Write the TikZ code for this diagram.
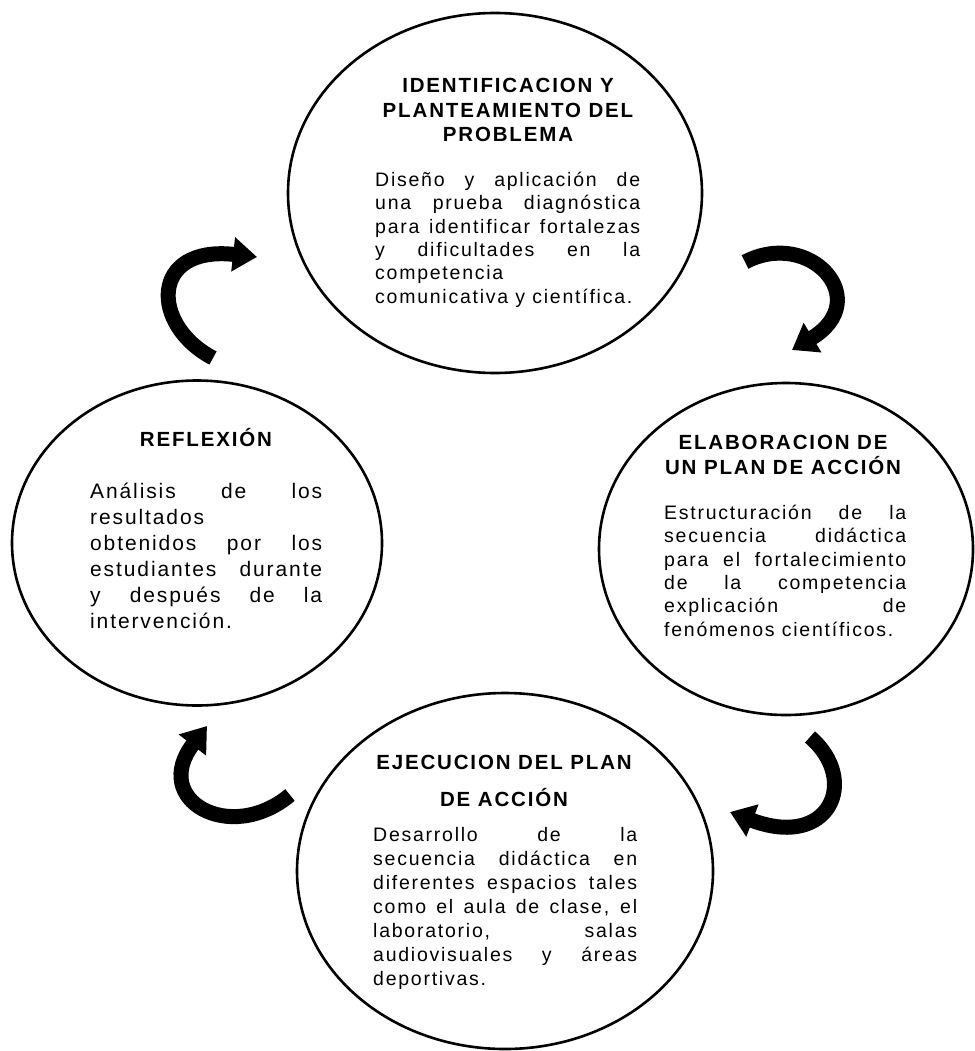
\documentclass[tikz,border=0pt]{standalone}
\usepackage{fontspec}
\setmainfont{Liberation Sans}[LetterSpace=9]
\usetikzlibrary{shapes.geometric,arrows.meta}
\newcommand\nohyph{\hyphenpenalty=10000\relax\exhyphenpenalty=10000\relax\tolerance=10000\relax}
\tikzset{
  stage/.style={draw=black, line width=2.6pt, ellipse, inner sep=0pt},
  ttl/.style={inner sep=0pt, align=center, font=\bfseries\fontsize{20.5}{24.5}\selectfont},
  body/.style={inner sep=0pt, anchor=north west, align=justify,
     font=\fontsize{19.5}{23.3}\selectfont},
  cyc/.style={line width=15pt, -{Triangle[length=24pt,width=33pt]}}
}
\begin{document}
\begin{tikzpicture}[x=1pt,y=-1pt]
\useasboundingbox (0,0) rectangle (974,1051);
% ellipses
\node[stage, minimum width=414pt, minimum height=360pt] (T) at (495,193) {};
\node[stage, minimum width=374pt, minimum height=332pt] (R) at (786,549) {};
\node[stage, minimum width=370pt, minimum height=325pt] (L) at (197,543) {};
\node[stage, minimum width=416pt, minimum height=356pt] (B) at (505,871) {};
% top
\node[ttl, anchor=north] (Tt) at (508,78) {IDENTIFICACION Y\\PLANTEAMIENTO DEL\\PROBLEMA};
\node[body, text width=265pt] (Tb) at (375,172) {\nohyph Diseño y aplicación de\linebreak una prueba diagnóstica\linebreak para identificar fortalezas\linebreak y dificultades en la\linebreak competencia\\ comunicativa y científica.};
% right
\node[ttl, anchor=north] (Rt) at (783,435) {ELABORACION DE\\UN PLAN DE ACCIÓN};
\node[body, text width=242pt] (Rb) at (664,505) {\nohyph Estructuración de la\linebreak secuencia didáctica\linebreak para el fortalecimiento\linebreak de la competencia\linebreak explicación de\linebreak fenómenos científicos.};
% left
\node[ttl, anchor=north] (Lt) at (206,428) {REFLEXIÓN};
\node[body, text width=232pt, font=\fontsize{21}{26}\selectfont] (Lb) at (90,483) {\nohyph Análisis de los\linebreak resultados\\ obtenidos por los\linebreak estudiantes durante\linebreak y después de la\linebreak intervención.};
% bottom
\node[ttl, anchor=north] (Bt) at (504,755) {EJECUCION DEL PLAN\\[12pt]DE ACCIÓN};
\node[body, text width=264pt, font=\fontsize{19.5}{24}\selectfont] (Bb) at (373,827) {\nohyph Desarrollo de la\linebreak secuencia didáctica en\linebreak diferentes espacios tales\linebreak como el aula de clase, el\linebreak laboratorio, salas\linebreak audiovisuales y áreas\linebreak deportivas.};
% arrows
\coordinate (a1s) at (213,358); \coordinate (a1e) at (257,257);
\coordinate (a2s) at (745,262); \coordinate (a2e) at (792,350);
\coordinate (a3s) at (810,737); \coordinate (a3e) at (730,812);
\coordinate (a4s) at (290,795); \coordinate (a4e) at (207,726);
\draw[cyc] (a1s) .. controls (150,325) and (150,245) .. (a1e);
\draw[cyc] (a2s) .. controls (810,228) and (875,300) .. (a2e);
\draw[cyc] (a3s) .. controls (860,780) and (830,850) .. (a3e);
\draw[cyc] (a4s) .. controls (230,845) and (150,800) .. (a4e);
\end{tikzpicture}
\end{document}
